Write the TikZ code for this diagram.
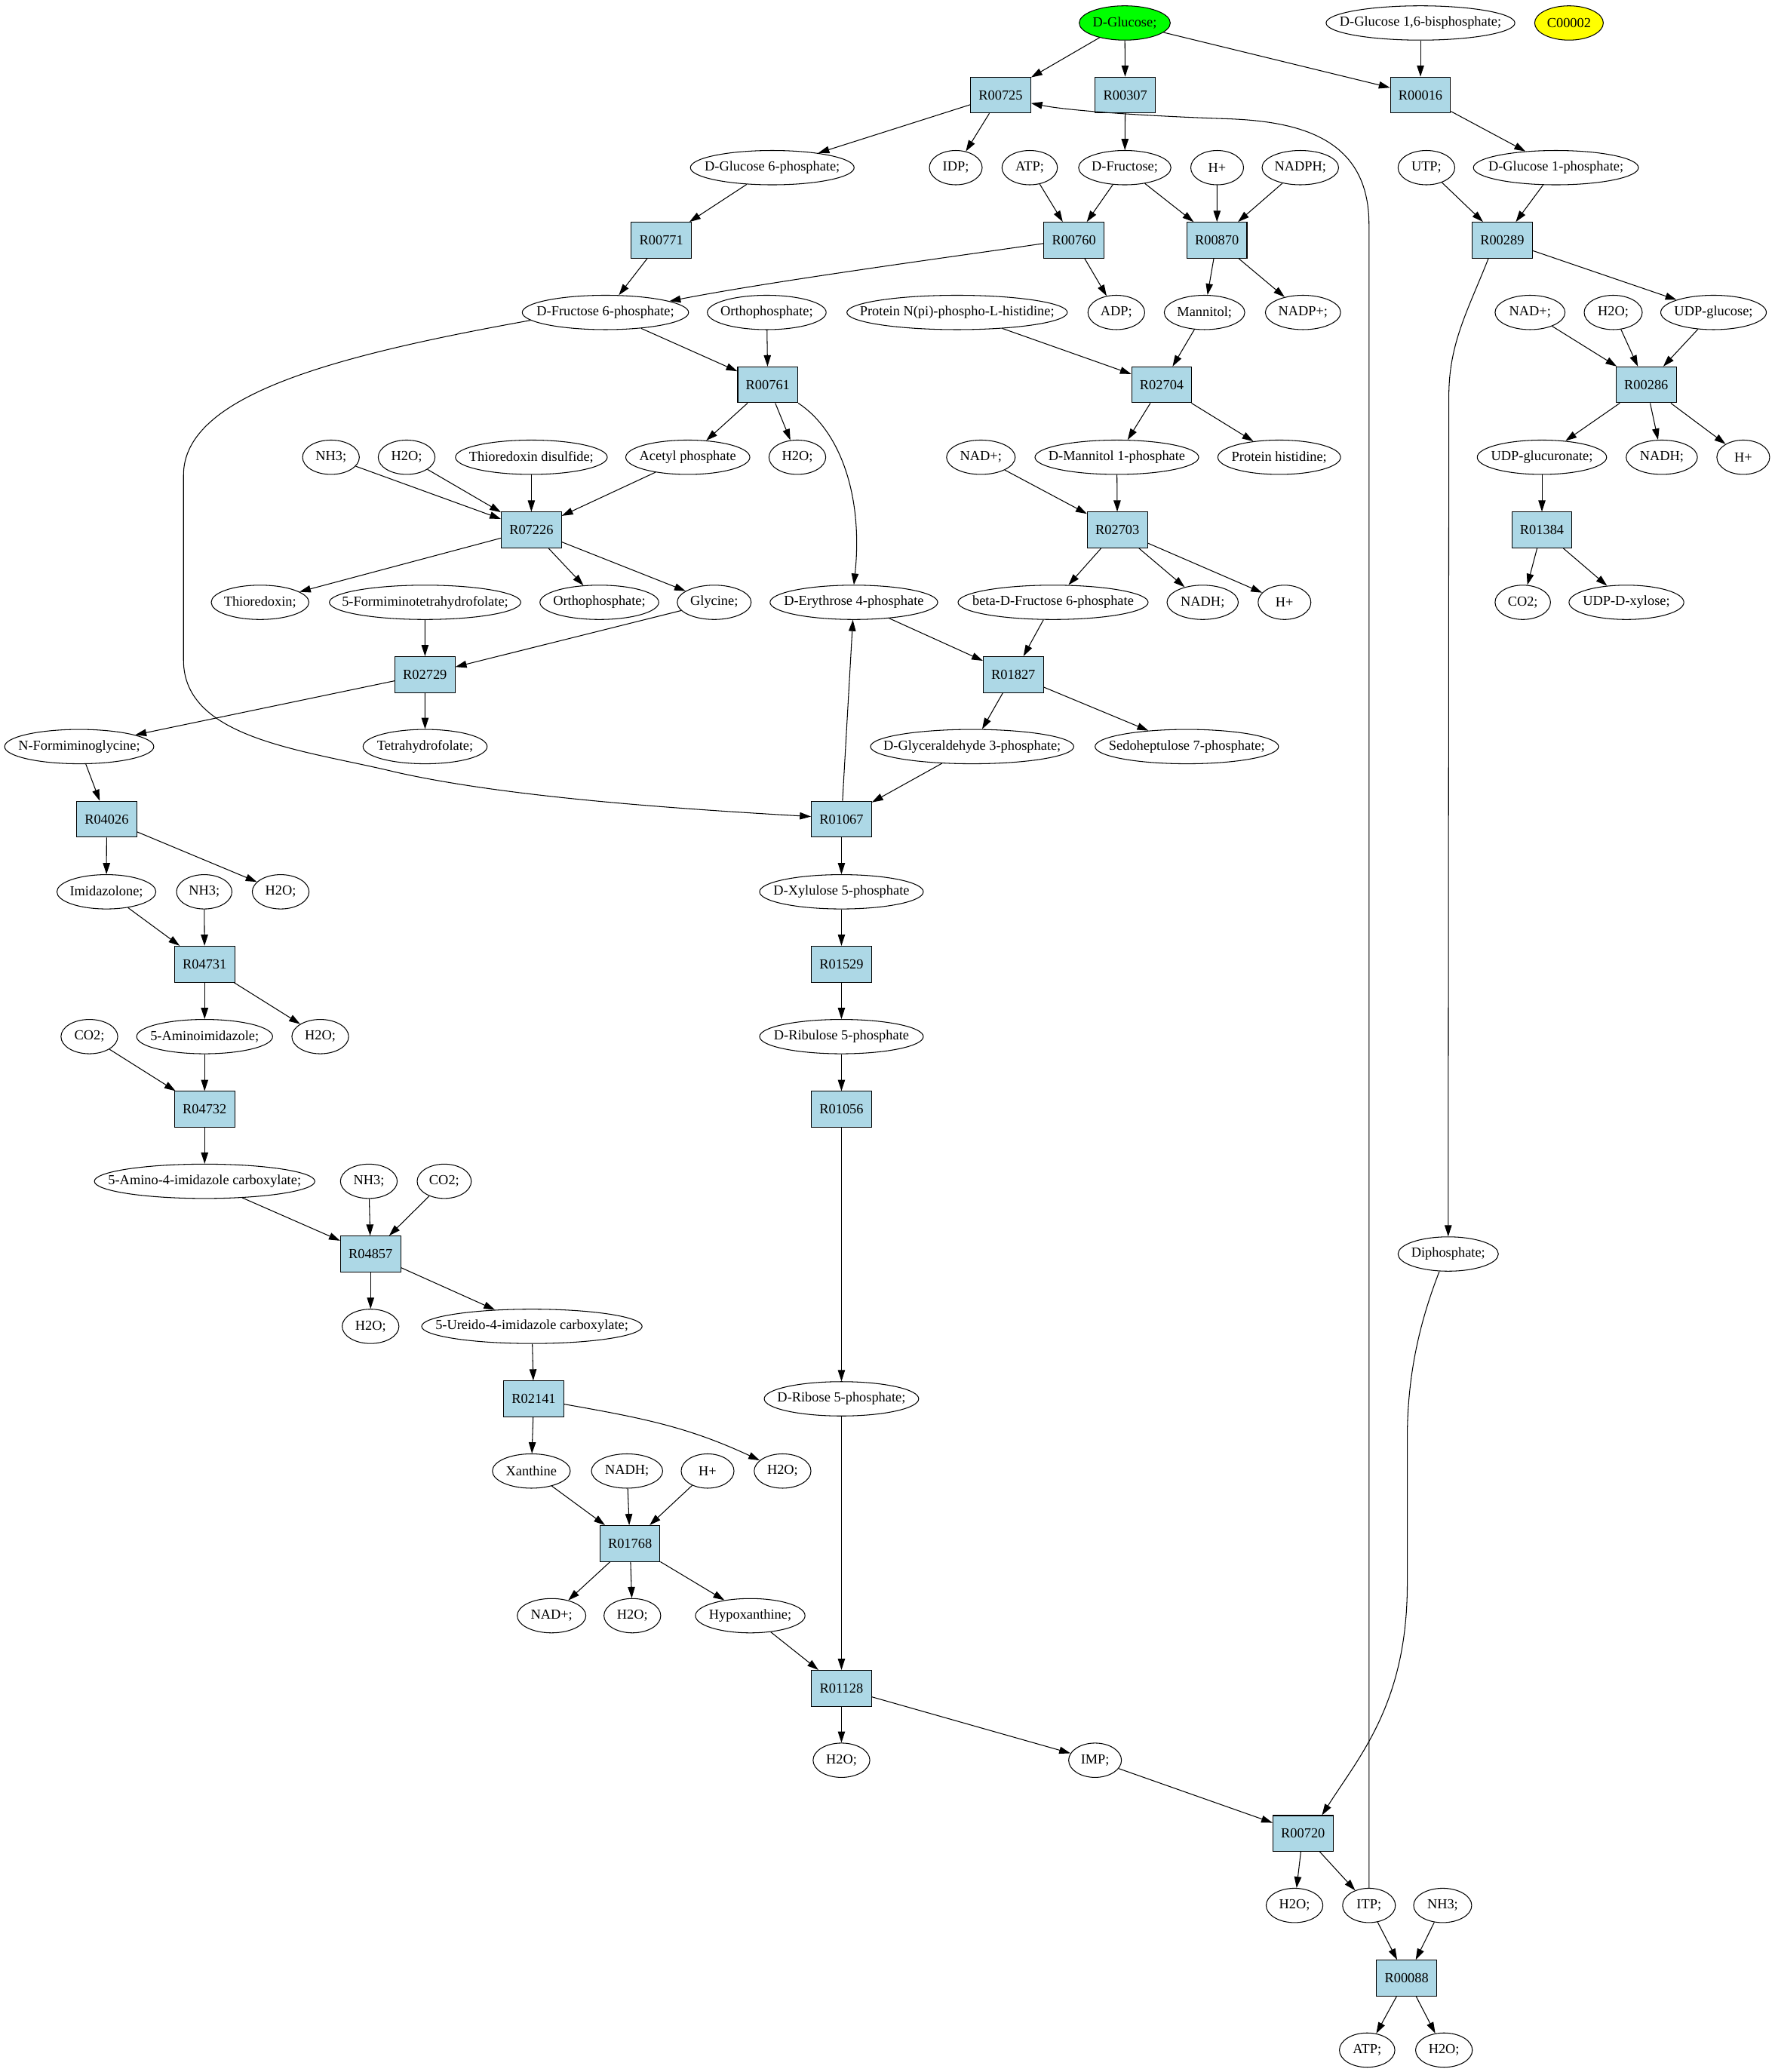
\documentclass[tikz,border=0pt]{standalone}
\usepackage{fontspec}
\setmainfont{Liberation Serif}
\usetikzlibrary{shapes.geometric,arrows.meta}
\definecolor{lb}{HTML}{ADD8E6}
\definecolor{gr}{HTML}{00FF00}
\definecolor{yl}{HTML}{FFFF00}
\begin{document}
\begin{tikzpicture}[x=1pt,y=-1pt,
 every node/.style={font=\fontsize{10.5}{12}\selectfont},
 rx/.style={draw, fill=lb, rectangle, minimum width=45.5pt, minimum height=27.2pt, inner sep=0pt, line width=0.6pt},
 el/.style={draw, ellipse, inner xsep=-40pt, inner ysep=-20pt, minimum height=26pt, line width=0.6pt},
 ar/.style={-{Triangle[length=8.5pt,width=5.4pt]}, line width=0.6pt}]
\useasboundingbox (0,0) rectangle (1344,1569.7);
% row 0
\node[el, fill=gr, minimum width=69pt] (glc) at (852,17.4) {D-Glucose;};
\node[el, minimum width=143pt] (g16bp) at (1076,17.4) {D-Glucose 1,6-bisphosphate;};
\node[el, fill=yl, minimum width=52pt] (c2) at (1188.5,17.4) {C00002};
% row 1
\node[rx] (R00725) at (758,72) {R00725};
\node[rx] (R00307) at (852.4,72) {R00307};
\node[rx] (R00016) at (1076,72) {R00016};
% row 2
\node[el, minimum width=124pt] (g6p) at (585,127) {D-Glucose 6-phosphate;};
\node[el, minimum width=40pt] (idp) at (724,127) {IDP;};
\node[el, minimum width=42pt] (atp1) at (780,127) {ATP;};
\node[el, minimum width=70pt] (fru) at (852,127) {D-Fructose;};
\node[el, minimum width=40pt] (hp1) at (922,127) {H+};
\node[el, minimum width=58pt] (nadph) at (985,127) {NADPH;};
\node[el, minimum width=43pt] (utp) at (1080.5,127) {UTP;};
\node[el, minimum width=125pt] (g1p) at (1178.6,127) {D-Glucose 1-phosphate;};
% row 3
\node[rx] (R00771) at (501,182) {R00771};
\node[rx] (R00760) at (813.5,182) {R00760};
\node[rx] (R00870) at (921.8,182) {R00870};
\node[rx] (R00289) at (1137.9,182) {R00289};
% row 4
\node[el, minimum width=126pt] (f6p) at (458.6,236.7) {D-Fructose 6-phosphate;};
\node[el, minimum width=90pt] (orth1) at (580.8,236.7) {Orthophosphate;};
\node[el, minimum width=167pt] (protnp) at (725,236.7) {Protein N(pi)-phospho-L-histidine;};
\node[el, minimum width=43pt] (adp) at (845.6,236.7) {ADP;};
\node[el, minimum width=61pt] (mann) at (912.4,236.7) {Mannitol;};
\node[el, minimum width=57pt] (nadpp) at (987,236.7) {NADP+;};
\node[el, minimum width=53pt] (nad1) at (1159,236.7) {NAD+;};
\node[el, minimum width=44pt] (h2o1) at (1222,236.7) {H2O;};
\node[el, minimum width=80pt] (udpg) at (1298,236.7) {UDP-glucose;};
% row 5
\node[rx] (R00761) at (581.6,291.5) {R00761};
\node[rx] (R02704) at (880,291.5) {R02704};
\node[rx] (R00286) at (1247,291.5) {R00286};
% row 6
\node[el, minimum width=43pt] (nh31) at (250.7,346.4) {NH3;};
\node[el, minimum width=43pt] (h2o2) at (308,346.4) {H2O;};
\node[el, minimum width=115pt] (thiodis) at (402.5,346.4) {Thioredoxin disulfide;};
\node[el, minimum width=94pt] (acp) at (521,346.4) {Acetyl phosphate};
\node[el, minimum width=43pt] (h2o3) at (604,346.4) {H2O;};
\node[el, minimum width=52pt] (nad2) at (743,346.4) {NAD+;};
\node[el, minimum width=124pt] (m1p) at (846,346.4) {D-Mannitol 1-phosphate};
\node[el, minimum width=93pt] (prothis) at (969,346.4) {Protein histidine;};
\node[el, minimum width=98pt] (udpgu) at (1168,346.4) {UDP-glucuronate;};
\node[el, minimum width=54pt] (nadh1) at (1258.8,346.4) {NADH;};
\node[el, minimum width=40pt] (hp2) at (1320.5,346.4) {H+};
% row 7
\node[rx] (R07226) at (402.5,401.5) {R07226};
\node[rx] (R02703) at (846.4,401.5) {R02703};
\node[rx] (R01384) at (1168,401.5) {R01384};
% row 8
\node[el, minimum width=74pt] (thio) at (197,456.3) {Thioredoxin;};
\node[el, minimum width=145pt] (formthf) at (322,456.3) {5-Formiminotetrahydrofolate;};
\node[el, minimum width=90pt] (orth2) at (454,456.3) {Orthophosphate;};
\node[el, minimum width=56pt] (gly) at (541,456.3) {Glycine;};
\node[el, minimum width=127pt] (e4p) at (646.8,456.3) {D-Erythrose 4-phosphate};
\node[el, minimum width=144pt] (bf6p) at (797.7,456.3) {beta-D-Fructose 6-phosphate};
\node[el, minimum width=54pt] (nadh2) at (911,456.3) {NADH;};
\node[el, minimum width=40pt] (hp3) at (973,456.3) {H+};
\node[el, minimum width=42pt] (co21) at (1153.5,456.3) {CO2;};
\node[el, minimum width=87pt] (udpx) at (1232,456.3) {UDP-D-xylose;};
% row 9
\node[rx] (R02729) at (321.9,511) {R02729};
\node[rx] (R01827) at (767.6,511) {R01827};
% row 10
\node[el, minimum width=113pt] (nfg) at (60,565.6) {N-Formiminoglycine;};
\node[el, minimum width=94pt] (thf) at (322,565.6) {Tetrahydrofolate;};
\node[el, minimum width=154pt] (gap) at (736.4,565.6) {D-Glyceraldehyde 3-phosphate;};
\node[el, minimum width=139pt] (s7p) at (899,565.6) {Sedoheptulose 7-phosphate;};
% row 11
\node[rx] (R04026) at (80.8,620.6) {R04026};
\node[rx] (R01067) at (637.4,620.6) {R01067};
% row 12
\node[el, minimum width=75pt] (imid) at (80.6,675.6) {Imidazolone;};
\node[el, minimum width=42pt] (nh32) at (154.7,675.6) {NH3;};
\node[el, minimum width=43pt] (h2o4) at (212.6,675.6) {H2O;};
\node[el, minimum width=124pt] (xu5p) at (637.4,675.6) {D-Xylulose 5-phosphate};
% row 13
\node[rx] (R04731) at (155,730.4) {R04731};
\node[rx] (R01529) at (637.4,730.4) {R01529};
% row 14
\node[el, minimum width=43pt] (co22) at (67.7,785.3) {CO2;};
\node[el, minimum width=103pt] (aimid) at (155,785.3) {5-Aminoimidazole;};
\node[el, minimum width=43pt] (h2o5) at (242.6,785.3) {H2O;};
\node[el, minimum width=124pt] (ru5p) at (637.4,785.3) {D-Ribulose 5-phosphate};
% row 15
\node[rx] (R04732) at (155,840.4) {R04732};
\node[rx] (R01056) at (637.4,840.4) {R01056};
% row 16
\node[el, minimum width=167pt] (aic) at (155,894.9) {5-Amino-4-imidazole carboxylate;};
\node[el, minimum width=43pt] (nh33) at (279.4,894.9) {NH3;};
\node[el, minimum width=41pt] (co23) at (336.5,894.9) {CO2;};
% row 17
\node[rx] (R04857) at (280.7,950) {R04857};
\node[el, minimum width=76pt] (diph) at (1097,950) {Diphosphate;};
% row 18
\node[el, minimum width=43pt] (h2o6) at (280.7,1004.8) {H2O;};
\node[el, minimum width=167pt] (uic) at (402.9,1004.8) {5-Ureido-4-imidazole carboxylate;};
% row 19
\node[rx] (R02141) at (404.3,1059.7) {R02141};
\node[el, minimum width=117pt] (r5p) at (637.4,1059.7) {D-Ribose 5-phosphate;};
% row 20
\node[el, minimum width=59pt] (xan) at (402.5,1114.4) {Xanthine};
\node[el, minimum width=54pt] (nadh3) at (475,1114.4) {NADH;};
\node[el, minimum width=40pt] (hp4) at (536,1114.4) {H+};
\node[el, minimum width=43pt] (h2o7) at (592.8,1114.4) {H2O;};
% row 21
\node[rx] (R01768) at (477.2,1169.3) {R01768};
% row 22
\node[el, minimum width=52pt] (nad3) at (417.8,1224) {NAD+;};
\node[el, minimum width=43pt] (h2o8) at (479,1224) {H2O;};
\node[el, minimum width=83pt] (hypx) at (568.3,1224) {Hypoxanthine;};
% row 23
\node[rx] (R01128) at (637.4,1279) {R01128};
% row 24
\node[el, minimum width=43pt] (h2o9) at (637.4,1333.5) {H2O;};
\node[el, minimum width=40pt] (imp) at (829.5,1333.5) {IMP;};
% row 25
\node[rx] (R00720) at (987,1389) {R00720};
% row 26
\node[el, minimum width=43pt] (h2o10) at (980.6,1443.5) {H2O;};
\node[el, minimum width=40pt] (itp) at (1037,1443.5) {ITP;};
\node[el, minimum width=44pt] (nh34) at (1092.8,1443.5) {NH3;};
% row 27
\node[rx] (R00088) at (1065.5,1498.6) {R00088};
% row 28
\node[el, minimum width=42pt] (atp2) at (1035.6,1553.1) {ATP;};
\node[el, minimum width=43pt] (h2o11) at (1093.8,1553.1) {H2O;};

% straight edges
\foreach \a/\b in {glc/R00725, glc/R00307, glc/R00016, g16bp/R00016,
 R00725/g6p, R00725/idp, R00307/fru, R00016/g1p,
 g6p/R00771, atp1/R00760, fru/R00760, fru/R00870, hp1/R00870, nadph/R00870, utp/R00289, g1p/R00289,
 R00771/f6p, R00760/adp, R00870/mann, R00870/nadpp, R00289/udpg,
 f6p/R00761, orth1/R00761, protnp/R02704, mann/R02704, nad1/R00286, h2o1/R00286, udpg/R00286,
 R00761/acp, R00761/h2o3, R02704/m1p, R02704/prothis, R00286/udpgu, R00286/nadh1, R00286/hp2,
 nh31/R07226, h2o2/R07226, thiodis/R07226, acp/R07226, nad2/R02703, m1p/R02703, udpgu/R01384,
 R07226/thio, R07226/orth2, R07226/gly, R02703/bf6p, R02703/nadh2, R02703/hp3, R01384/co21, R01384/udpx,
 formthf/R02729, gly/R02729, e4p/R01827, bf6p/R01827,
 R02729/nfg, R02729/thf, R01827/gap, R01827/s7p,
 gap/R01067, R01067/e4p, R01067/xu5p,
 nfg/R04026, R04026/imid, R04026/h2o4, imid/R04731, nh32/R04731, R04731/aimid, R04731/h2o5,
 co22/R04732, aimid/R04732, R04732/aic, aic/R04857, nh33/R04857, co23/R04857, R04857/h2o6, R04857/uic,
 uic/R02141, R02141/xan, xan/R01768, nadh3/R01768, hp4/R01768, R01768/nad3, R01768/h2o8, R01768/hypx,
 xu5p/R01529, R01529/ru5p, ru5p/R01056, R01056/r5p, r5p/R01128, hypx/R01128, R01128/h2o9, R01128/imp,
 imp/R00720, R00720/h2o10, R00720/itp, itp/R00088, nh34/R00088, R00088/atp2, R00088/h2o11}
 \draw[ar] (\a) -- (\b);

% curved edges
\draw[ar] (R00760.186) .. controls (740,192) and (590,212) .. (f6p.10);
\draw[ar] (R00289.-127) .. controls (1112,235) and (1097.5,260) .. (1097.5,300) -- (diph.north);
\draw[ar] (f6p.186) .. controls (250,270) and (139,300) .. (139,360) -- (139,500)
  .. controls (139,560) and (230,568) .. (300,585) .. controls (380,603) and (500,612) .. (R01067.175);
\draw[ar] (R00761.south east) .. controls (636,326) and (654,375) .. (e4p.north);
\draw[ar] (diph.-117) .. controls (1076,1000) and (1066,1040) .. (1066,1090) -- (1066,1200)
  .. controls (1066,1290) and (1030,1330) .. (R00720.44);
\draw[ar] (itp.north) -- (1037,170) .. controls (1037,105) and (985,92) .. (930,90)
  .. controls (870,88) and (810,84) .. (R00725.-15);
\draw[ar] (R02141) to[out=-10,in=155] (h2o7);
\end{tikzpicture}
\end{document}
